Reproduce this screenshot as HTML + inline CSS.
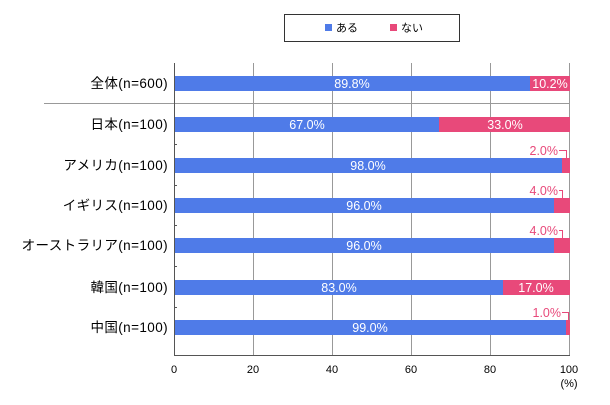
<!DOCTYPE html>
<html><head><meta charset="utf-8"><style>
body{margin:0;background:#fff;}
svg text{font-family:"Liberation Sans","Noto Sans CJK JP",sans-serif;}
</style></head><body>
<svg width="610" height="400" xmlns="http://www.w3.org/2000/svg">
<rect x="0" y="0" width="610" height="400" fill="#fff"/>
<rect x="284.5" y="14.5" width="175" height="27" fill="#fff" stroke="#333" stroke-width="1"/>
<rect x="325" y="24" width="7" height="7" fill="#4f7be8"/>
<text x="336" y="31.5" font-size="11" fill="#000">ある</text>
<rect x="390" y="24" width="7" height="7" fill="#e8497a"/>
<text x="401" y="31.5" font-size="11" fill="#000">ない</text>
<g stroke="#999" stroke-width="1">
<line x1="253.5" y1="63" x2="253.5" y2="355"/>
<line x1="332.5" y1="63" x2="332.5" y2="355"/>
<line x1="411.5" y1="63" x2="411.5" y2="355"/>
<line x1="490.5" y1="63" x2="490.5" y2="355"/>
<line x1="569.5" y1="63" x2="569.5" y2="355"/>
<line x1="44" y1="103.5" x2="570" y2="103.5"/>
</g>
<g stroke="#555" stroke-width="1">
<line x1="174.5" y1="63" x2="174.5" y2="355"/>
<line x1="174" y1="355.5" x2="570" y2="355.5"/>
<line x1="174" y1="144.5" x2="177" y2="144.5"/>
<line x1="174" y1="185.5" x2="177" y2="185.5"/>
<line x1="174" y1="225.5" x2="177" y2="225.5"/>
<line x1="174" y1="266.5" x2="177" y2="266.5"/>
<line x1="174" y1="307.5" x2="177" y2="307.5"/>
</g>
<g font-size="13.5" fill="#000" text-anchor="end" letter-spacing="0.4">
<text x="168" y="88">全体(n=600)</text>
<text x="168" y="129">日本(n=100)</text>
<text x="168" y="170">アメリカ(n=100)</text>
<text x="168" y="210">イギリス(n=100)</text>
<text x="168" y="250">オーストラリア(n=100)</text>
<text x="168" y="292">韓国(n=100)</text>
<text x="168" y="332">中国(n=100)</text>
</g>
<g>
<rect x="175" y="76" width="355" height="15" fill="#4f7be8"/><rect x="530" y="76" width="40" height="15" fill="#e8497a"/>
<rect x="175" y="117" width="264" height="15" fill="#4f7be8"/><rect x="439" y="117" width="131" height="15" fill="#e8497a"/>
<rect x="175" y="158" width="387" height="15" fill="#4f7be8"/><rect x="562" y="158" width="8" height="15" fill="#e8497a"/>
<rect x="175" y="198" width="379" height="15" fill="#4f7be8"/><rect x="554" y="198" width="16" height="15" fill="#e8497a"/>
<rect x="175" y="238" width="379" height="15" fill="#4f7be8"/><rect x="554" y="238" width="16" height="15" fill="#e8497a"/>
<rect x="175" y="280" width="328" height="15" fill="#4f7be8"/><rect x="503" y="280" width="67" height="15" fill="#e8497a"/>
<rect x="175" y="320" width="391" height="15" fill="#4f7be8"/><rect x="566" y="320" width="4" height="15" fill="#e8497a"/>
</g>
<g font-size="12.5" fill="#fff" text-anchor="middle">
<text x="352" y="88">89.8%</text><text x="550" y="88">10.2%</text>
<text x="307" y="129">67.0%</text><text x="505" y="129">33.0%</text>
<text x="368" y="170">98.0%</text>
<text x="364" y="210">96.0%</text>
<text x="364" y="250">96.0%</text>
<text x="339" y="292">83.0%</text><text x="536" y="292">17.0%</text>
<text x="370" y="332">99.0%</text>
</g>
<g font-size="12.5" fill="#e8497a" text-anchor="end">
<text x="558" y="155">2.0%</text>
<text x="558" y="195">4.0%</text>
<text x="558" y="235">4.0%</text>
<text x="561" y="317">1.0%</text>
</g>
<g stroke="#e8497a" stroke-width="1" fill="none">
<polyline points="559,150.5 566.5,150.5 566.5,158"/>
<polyline points="559,190.5 562.5,190.5 562.5,198"/>
<polyline points="559,230.5 562.5,230.5 562.5,238"/>
<polyline points="562,312.5 568.5,312.5 568.5,320"/>
</g>
<g font-size="11" fill="#000" text-anchor="middle">
<text x="174" y="373">0</text><text x="253" y="373">20</text><text x="332" y="373">40</text>
<text x="411" y="373">60</text><text x="490" y="373">80</text><text x="569" y="373">100</text>
<text x="569" y="387">(%)</text>
</g>
</svg>
</body></html>
